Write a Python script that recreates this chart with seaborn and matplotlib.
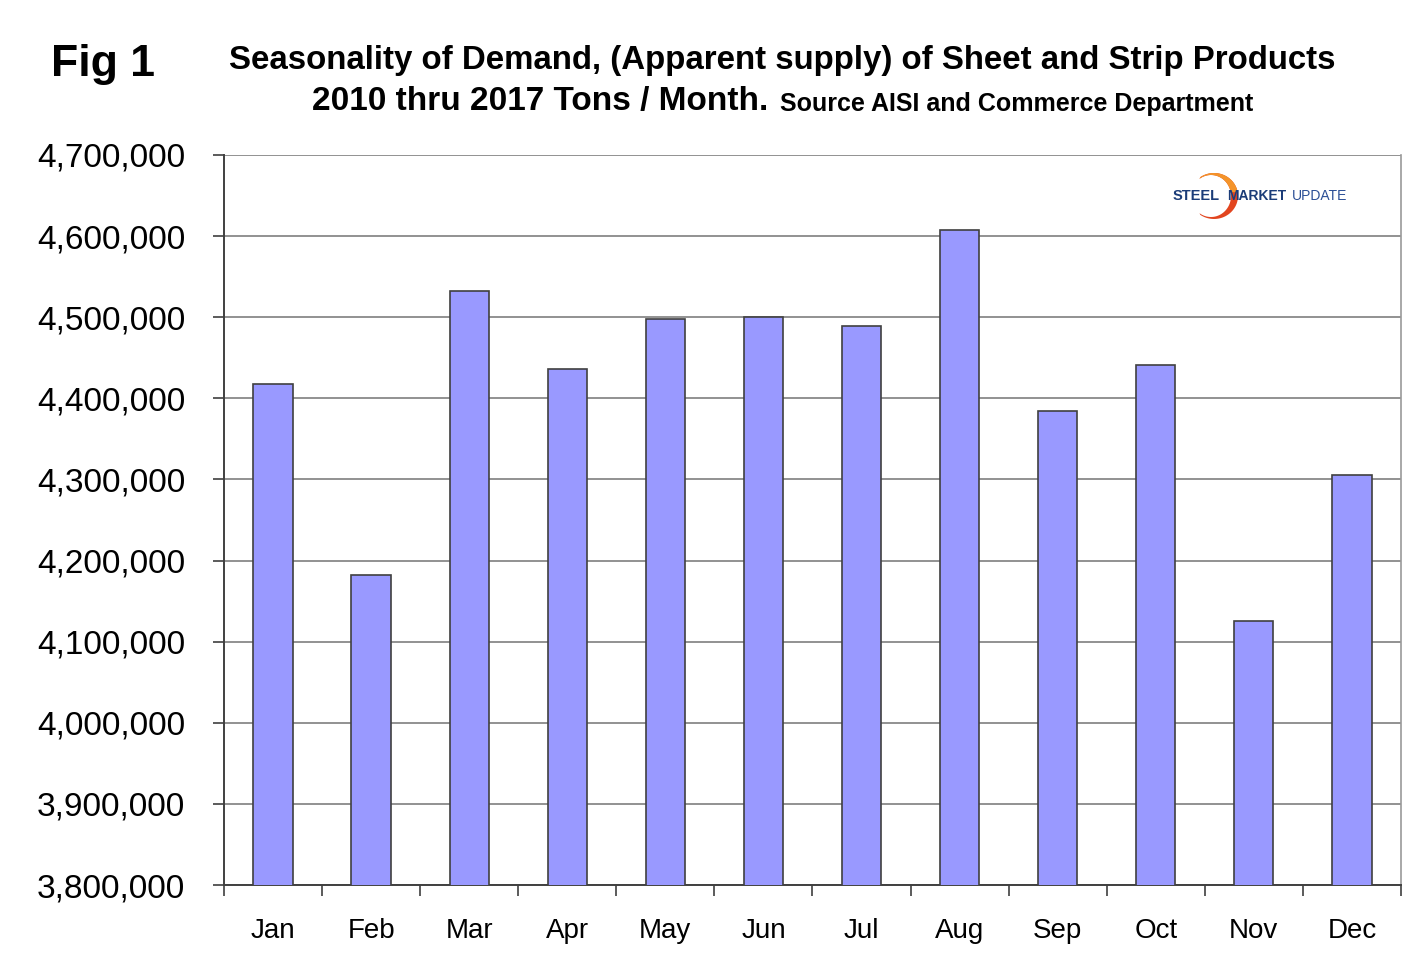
import matplotlib
matplotlib.use('Agg')
import numpy as np
import matplotlib.pyplot as plt
import seaborn as sns
import pandas as pd
from matplotlib.patches import Polygon
from matplotlib.ticker import FuncFormatter, FixedLocator

# Data
months = ['Jan', 'Feb', 'Mar', 'Apr', 'May', 'Jun',
          'Jul', 'Aug', 'Sep', 'Oct', 'Nov', 'Dec']
tons = [4418000, 4182000, 4532000, 4436000, 4498000, 4500000,
        4489000, 4608000, 4384000, 4441000, 4125000, 4305000]
y_ticks = [3800000, 3900000, 4000000, 4100000, 4200000,
           4300000, 4400000, 4500000, 4600000, 4700000]

df = pd.DataFrame({'month': months, 'tons': tons})

sns.set_style('white')
plt.rcParams['font.family'] = ['Liberation Sans', 'DejaVu Sans']

fig = plt.figure(figsize=(14.22, 9.73), dpi=100)
ax = fig.add_axes([0.1575, 0.0904, 0.8277, 0.7503])

sns.barplot(data=df, x='month', y='tons', color='#9999FF', saturation=1,
            width=0.4, edgecolor='#404040', linewidth=1.2, ax=ax, zorder=3)

ax.set_ylim(y_ticks[0], y_ticks[-1])
ax.set_xlim(-0.5, len(months) - 0.5)
ax.yaxis.set_major_locator(FixedLocator(y_ticks))
ax.yaxis.set_major_formatter(FuncFormatter(lambda v, p: f'{int(v):,}'))
ax.grid(axis='y', color='#7f7f7f', linewidth=1.2, zorder=0)
ax.set_xlabel('')
ax.set_ylabel('')

# category separators as minor ticks
ax.set_xticks([i - 0.5 for i in range(len(months) + 1)], minor=True)
ax.tick_params(axis='x', which='major', length=0, pad=24, labelsize=20)
ax.tick_params(axis='x', which='minor', length=8, width=1.2, color='#404040',
               direction='out', bottom=True)
ax.tick_params(axis='y', which='major', length=8, width=1.2, color='#404040',
               direction='out', left=True, pad=20, labelsize=24)

for s in ['left', 'bottom']:
    ax.spines[s].set_color('#404040')
    ax.spines[s].set_linewidth(1.4)
ax.spines['top'].set_visible(False)
ax.spines['right'].set_color('#999999')
ax.spines['right'].set_linewidth(1.2)
for lab in ax.get_xticklabels() + ax.get_yticklabels():
    lab.set_color('black')

# titles
fig.text(0.0724, 0.934, 'Fig 1', fontsize=32, fontweight='bold', color='black',
         ha='center', va='center')
fig.text(0.550, 0.938, 'Seasonality of Demand, (Apparent supply) of Sheet and Strip Products',
         fontsize=23.8, fontweight='bold', color='black', ha='center', va='center')
fig.text(0.5405, 0.896, '2010 thru 2017 Tons / Month.', fontsize=24,
         fontweight='bold', color='black', ha='right', va='center')
fig.text(0.5485, 0.893, 'Source AISI and Commerce Department', fontsize=18,
         fontweight='bold', color='black', ha='left', va='center')

# logo (pixel coordinates)
cx, cy = 1214, 973 - 196
t_out = np.radians(np.linspace(-125, 125, 60))
outer = np.column_stack([cx + 24 * np.cos(t_out), cy + 23 * np.sin(t_out)])
inner = np.column_stack([cx - 3 + 20 * np.cos(t_out[::-1]), cy + 21 * np.sin(t_out[::-1])])
fig.patches.append(Polygon(np.vstack([outer, inner]), closed=True, facecolor='#E2451F',
                           edgecolor='none', transform=None, zorder=1))
t_top = np.radians(np.linspace(10, 125, 40))
outer2 = np.column_stack([cx + 24 * np.cos(t_top), cy + 23 * np.sin(t_top)])
inner2 = np.column_stack([cx - 3 + 20 * np.cos(t_top[::-1]), cy + 21 * np.sin(t_top[::-1])])
fig.patches.append(Polygon(np.vstack([outer2, inner2]), closed=True, facecolor='#F4942A',
                           edgecolor='none', transform=None, zorder=1))
ly = 1 - 196 / 973
fig.text(1173 / 1422, ly, 'STEEL', fontsize=10.5, fontweight='bold',
         color='#1B3C78', ha='left', va='center', zorder=5)
fig.text(1227 / 1422, ly, 'MARKET', fontsize=10, fontweight='bold',
         color='#1B3C78', ha='left', va='center', zorder=5)
fig.text(1292 / 1422, ly, 'UPDATE', fontsize=10,
         color='#2B4F96', ha='left', va='center', zorder=5)

fig.savefig('out.png', dpi=100)
